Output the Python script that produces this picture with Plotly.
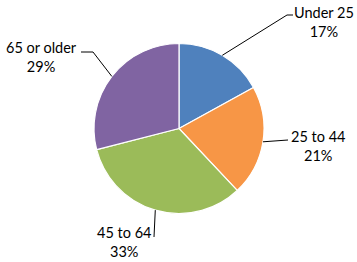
import math
import plotly.graph_objects as go

# Data
categories = ["Under 25", "25 to 44", "45 to 64", "65 or older"]
values = [17, 21, 33, 29]
colors = ["#4F81BD", "#F79646", "#9BBB59", "#8064A2"]

W, H = 357, 262
CX, CY, R = 179, 128.5, 85  # pie centre / radius in px

# label placement (px): label centre, elbow point, line end near label
label_pos = [(324, 22), (318, 146), (124, 242), (41, 57)]
elbows = [(287, 15), (288, 140), (154, 237), (93, 52)]
ends = [(293, 15), (288, 140), (154, 237), (81, 52)]


def px(x):
    return x / W


def py(y):
    return 1 - y / H


fig = go.Figure(
    go.Pie(
        labels=categories,
        values=values,
        sort=False,
        direction="clockwise",
        rotation=0,
        textinfo="none",
        hoverinfo="label+percent",
        marker=dict(colors=colors, line=dict(color="white", width=1.2)),
        domain=dict(x=[px(CX - R), px(CX + R)], y=[py(CY + R), py(CY - R)]),
        showlegend=False,
    )
)

total = sum(values)
cum = 0
shapes = []
annotations = []
for i, (cat, v) in enumerate(zip(categories, values)):
    mid = (cum + v / 2) / total * 2 * math.pi
    cum += v
    ex = CX + R * math.sin(mid)
    ey = CY - R * math.cos(mid)
    bx, by = elbows[i]
    tx, ty = ends[i]
    shapes.append(dict(type="line", xref="paper", yref="paper",
                       x0=px(ex), y0=py(ey), x1=px(bx), y1=py(by),
                       line=dict(color="black", width=1)))
    if (tx, ty) != (bx, by):
        shapes.append(dict(type="line", xref="paper", yref="paper",
                           x0=px(bx), y0=py(by), x1=px(tx), y1=py(ty),
                           line=dict(color="black", width=1)))
    lx, ly = label_pos[i]
    pct = round(v / total * 100)
    annotations.append(dict(x=px(lx), y=py(ly), xref="paper", yref="paper",
                            text=f"{cat}<br>{pct}%", showarrow=False,
                            xanchor="center", yanchor="middle", align="center",
                            font=dict(family="Lato, Open Sans, sans-serif", size=14.5, color="black")))

fig.update_layout(
    width=W, height=H,
    margin=dict(l=0, r=0, t=0, b=0),
    paper_bgcolor="white",
    plot_bgcolor="white",
    shapes=shapes,
    annotations=annotations,
)

fig.write_html(
    "out.html",
    config={"displayModeBar": False},
    post_script="document.body.style.margin='0';document.body.style.overflow='hidden';",
)
